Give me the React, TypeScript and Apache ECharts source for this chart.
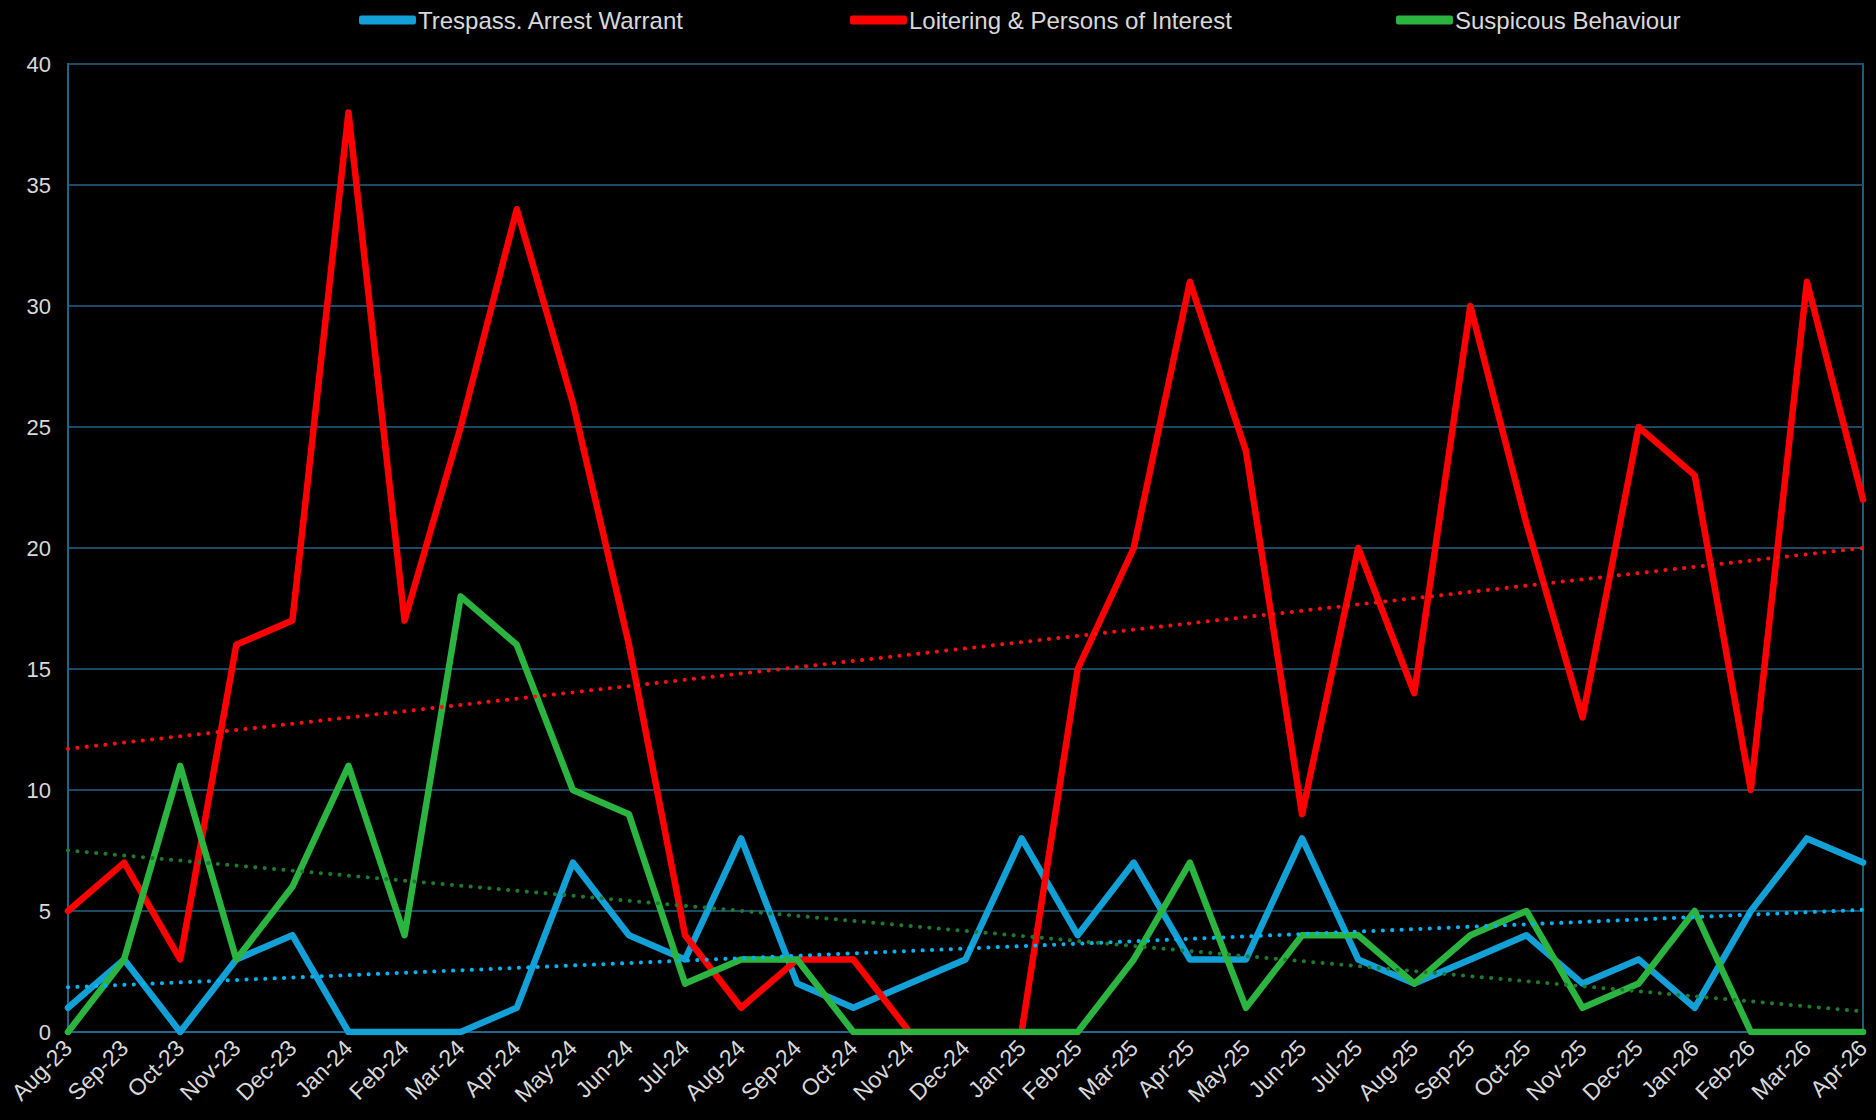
import React, { useEffect, useRef } from "react";
import * as echarts from "echarts";

const categories = [
  "Aug-23", "Sep-23", "Oct-23", "Nov-23", "Dec-23", "Jan-24", "Feb-24", "Mar-24", "Apr-24",
  "May-24", "Jun-24", "Jul-24", "Aug-24", "Sep-24", "Oct-24", "Nov-24", "Dec-24", "Jan-25",
  "Feb-25", "Mar-25", "Apr-25", "May-25", "Jun-25", "Jul-25", "Aug-25", "Sep-25", "Oct-25",
  "Nov-25", "Dec-25", "Jan-26", "Feb-26", "Mar-26", "Apr-26",
];

const trespass = [1, 3, 0, 3, 4, 0, 0, 0, 1, 7, 4, 3, 8, 2, 1, 2, 3, 8, 4, 7, 3, 3, 8, 3, 2, 3, 4, 2, 3, 1, 5, 8, 7];
const loitering = [5, 7, 3, 16, 17, 38, 17, 25, 34, 26, 16, 4, 1, 3, 3, 0, 0, 0, 15, 20, 31, 24, 9, 20, 14, 30, 21, 13, 25, 23, 10, 31, 22];
const suspicious = [0, 3, 11, 3, 6, 11, 4, 18, 16, 10, 9, 2, 3, 3, 0, 0, 0, 0, 0, 3, 7, 1, 4, 4, 2, 4, 5, 1, 2, 5, 0, 0, 0];

// Trendline end values (first and last category)
const trespassTrend = [1.85, 5.05];
const loiteringTrend = [11.7, 20.0];
const suspiciousTrend = [7.5, 0.85];

const seriesNames = ["Trespass. Arrest Warrant", "Loitering & Persons of Interest", "Suspicous Behaviour"];
const yTicks = { min: 0, max: 40, interval: 5 };

const BLUE = "#12a0d7";
const RED = "#ff0000";
const GREEN = "#2bb540";
const FONT = "'Liberation Sans', Arial, Helvetica, sans-serif";

export default function App() {
  const ref = useRef<HTMLDivElement>(null);
  useEffect(() => {
    document.body.style.margin = "0";
    document.body.style.background = "#000";
    const chart = echarts.init(ref.current!, null, { renderer: "svg" });
    const trendLine = (name: string, vals: number[], color: string) => ({
      name,
      type: "line",
      data: [
        [categories[0], vals[0]],
        [categories[categories.length - 1], vals[1]],
      ],
      symbol: "none",
      silent: true,
      z: 5,
      lineStyle: { color, width: 4, type: [0.1, 9.3], cap: "round" },
    });
    const mainLine = (name: string, data: number[], color: string, z: number) => ({
      name,
      type: "line",
      data,
      symbol: "none",
      z,
      itemStyle: { color },
      lineStyle: { color, width: 6.5, cap: "round", join: "round" },
    });
    const legendBase = (name: string, left: number, color: string) => ({
      data: [{ name, icon: "roundRect", itemStyle: { color } }],
      left,
      top: 8,
      padding: 0,
      itemWidth: 57,
      itemHeight: 9,
      textStyle: { color: "#d9d9d9", fontSize: 24, fontFamily: FONT, padding: [0, 0, 0, -3] },
    });
    chart.setOption({
      animation: false,
      backgroundColor: "#000000",
      textStyle: { fontFamily: FONT },
      legend: [
        legendBase(seriesNames[0], 359, BLUE),
        legendBase(seriesNames[1], 850, RED),
        legendBase(seriesNames[2], 1396, GREEN),
      ],
      grid: {
        left: 68,
        right: 13,
        top: 64,
        bottom: 88,
        show: true,
        borderColor: "#1d5c7c",
        borderWidth: 2,
        backgroundColor: "transparent",
      },
      xAxis: {
        type: "category",
        data: categories,
        boundaryGap: false,
        axisLine: { show: true, lineStyle: { color: "#1f6688", width: 2 } },
        axisTick: { show: false },
        axisLabel: {
          rotate: 45,
          color: "#d9d9d9",
          fontSize: 23,
          fontFamily: FONT,
          margin: 12,
          interval: 0,
        },
        splitLine: { show: false },
      },
      yAxis: {
        type: "value",
        min: yTicks.min,
        max: yTicks.max,
        interval: yTicks.interval,
        axisLine: { show: true, lineStyle: { color: "#1f6688", width: 2 } },
        axisTick: { show: false },
        axisLabel: { color: "#d9d9d9", fontSize: 22, fontFamily: FONT, margin: 17 },
        splitLine: { show: true, lineStyle: { color: "#1b4b64", width: 2 } },
      },
      series: [
        mainLine(seriesNames[0], trespass, BLUE, 2),
        mainLine(seriesNames[1], loitering, RED, 3),
        mainLine(seriesNames[2], suspicious, GREEN, 4),
        trendLine("Trespass trend", trespassTrend, "#00b4f5"),
        trendLine("Loitering trend", loiteringTrend, "#ff1010"),
        trendLine("Suspicious trend", suspiciousTrend, "#1e7a2e"),
      ],
    });
    return () => chart.dispose();
  }, []);
  return <div ref={ref} style={{ width: 1876, height: 1120, background: "#000" }} />;
}
